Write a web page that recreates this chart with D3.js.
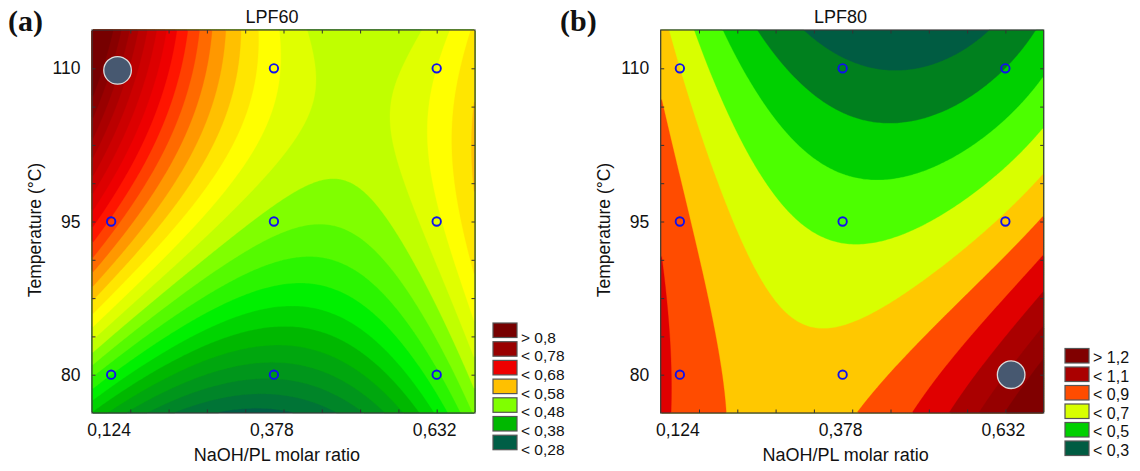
<!DOCTYPE html>
<html>
<head>
<meta charset="utf-8">
<title>LPF60 / LPF80</title>
<style>
  body { margin: 0; background: #fff; }
  svg text { font-family: Arial, "Liberation Sans", sans-serif; fill: #111; }
</style>
</head>
<body>
<svg id="chart" width="1140" height="471"></svg>
<script src="https://cdn.jsdelivr.net/npm/d3@7/dist/d3.min.js"></script>
<script>
// design points: NaOH/PL molar ratio and temperature
const ratios = [0.124, 0.378, 0.632];
const temps = [80, 95, 110];

// response read at the design points, rows = 80, 95, 110 °C
const lpf60 = [
  [0.42, 0.325, 0.435],
  [0.635, 0.47, 0.515],
  [0.78, 0.525, 0.52]
];
const lpf80 = [
  [0.88, 0.75, 1.10],
  [0.83, 0.57, 0.72],
  [0.70, 0.32, 0.40]
];

// contour levels
const levels60 = [0.28, 0.30, 0.32, 0.34, 0.36, 0.38, 0.40, 0.42, 0.44, 0.46, 0.48, 0.50, 0.52, 0.54,
                  0.56, 0.58, 0.60, 0.62, 0.64, 0.66, 0.68, 0.70, 0.72, 0.74, 0.76, 0.78, 0.80];
const levels80 = [0.3, 0.4, 0.5, 0.6, 0.7, 0.8, 0.9, 1.0, 1.1, 1.2];

// colour of a band, keyed by its upper level
const stops60 = [0.28, 0.30, 0.38, 0.42, 0.48, 0.50, 0.52, 0.54, 0.56, 0.58, 0.60, 0.62, 0.64, 0.66, 0.68,
                 0.78, 0.80, 0.82];
const colors60 = ["#005e46", "#007436", "#00b800", "#00f000", "#80ff00", "#c0ff00", "#e0ff00", "#ffff00",
                  "#ffe600", "#ffc000", "#ff9800", "#ff6a00", "#ff4000", "#ff1500", "#ee0000",
                  "#990000", "#880000", "#770000"];
const stops80 = [0.3, 0.4, 0.5, 0.6, 0.7, 0.8, 0.9, 1.0, 1.1, 1.2, 1.3];
const colors80 = ["#005c42", "#00801e", "#00d000", "#4cff00", "#d8ff00", "#ffc800", "#ff4c00",
                  "#e00000", "#aa0000", "#960000", "#800000"];

// legends
const legend60 = ["> 0,8", "< 0,78", "< 0,68", "< 0,58", "< 0,48", "< 0,38", "< 0,28"];
const legend60Lv = [0.82, 0.78, 0.68, 0.58, 0.48, 0.38, 0.28];
const legend80 = ["> 1,2", "< 1,1", "< 0,9", "< 0,7", "< 0,5", "< 0,3"];
const legend80Lv = [1.3, 1.1, 0.9, 0.7, 0.5, 0.3];

// marked point (ratio, temperature)
const best60 = [0.134, 109.8];
const best80 = [0.641, 80];

const xTickLabels = ["0,124", "0,378", "0,632"];
const yTickLabels = ["80", "95", "110"];

const xDomain = [0.0941, 0.6918];
const tDomain = [76.25, 113.75];

const W = 383, H = 383;
const plotTop = 30;
const panels = [
  { tag: "(a)", title: "LPF60", z: lpf60, levels: levels60, stops: stops60, colors: colors60,
    legend: legend60, legendLv: legend60Lv, best: best60,
    left: 92, tagX: 8, ylabX: 41, legX: 493, legY: 323, legStep: 18.7, legDy: 19.5, legFont: 15.5, legTx: 521 },
  { tag: "(b)", title: "LPF80", z: lpf80, levels: levels80, stops: stops80, colors: colors80,
    legend: legend80, legendLv: legend80Lv, best: best80,
    left: 660.7, tagX: 560, ylabX: 610, legX: 1065, legY: 348.5, legStep: 18.5, legDy: 14.5, legFont: 16, legTx: 1093 }
];

// Lagrange weights over the three design levels
function weights(xs, x) {
  return xs.map((xi, i) => xs.reduce((p, xj, j) => j === i ? p : p * (x - xj) / (xi - xj), 1));
}
function surface(z) {
  return (x, t) => {
    const wx = weights(ratios, x), wt = weights(temps, t);
    return d3.sum(wt, (a, j) => a * d3.sum(wx, (b, i) => b * z[j][i]));
  };
}

const svg = d3.select("#chart");
const N = 192;

panels.forEach(p => {
  const x = d3.scaleLinear().domain(xDomain).range([0, W]);
  const y = d3.scaleLinear().domain(tDomain).range([H, 0]);
  const color = d3.scaleLinear().domain(p.stops).range(p.colors).clamp(true);
  const f = surface(p.z);

  const g = svg.append("g").attr("transform", `translate(${p.left},${plotTop})`);

  // surface grid
  const values = new Array(N * N);
  for (let j = 0; j < N; j++) {
    for (let i = 0; i < N; i++) {
      values[j * N + i] = f(x.invert((i + 0.5) * W / N), y.invert((j + 0.5) * H / N));
    }
  }
  const contours = d3.contours().size([N, N]).thresholds(p.levels)(values);
  const proj = d3.geoTransform({
    point: function (px, py) { this.stream.point(px * W / N, py * H / N); }
  });
  const path = d3.geoPath(proj);
  const topLv = p.stops[p.stops.length - 1];
  const bandColor = k => color(k + 1 < p.levels.length ? p.levels[k + 1] : topLv);

  g.append("rect").attr("width", W).attr("height", H).attr("fill", color(p.levels[0]));
  g.selectAll("path.band")
    .data(contours)
    .join("path")
    .attr("class", "band")
    .attr("d", path)
    .attr("fill", (d, k) => bandColor(k))
    .attr("stroke", (d, k) => bandColor(k))
    .attr("stroke-width", 0.3);

  // inward tick marks, ten equal divisions
  const xDiv = d3.range(1, 10).map(i => d3.interpolateNumber(xDomain[0], xDomain[1])(i / 10));
  const tDiv = d3.range(1, 10).map(i => d3.interpolateNumber(tDomain[0], tDomain[1])(i / 10));
  const tickAxes = [
    [d3.axisBottom(x).tickValues(xDiv), `translate(0,${H})`],
    [d3.axisTop(x).tickValues(xDiv), "translate(0,0)"],
    [d3.axisLeft(y).tickValues(tDiv), "translate(0,0)"],
    [d3.axisRight(y).tickValues(tDiv), `translate(${W},0)`]
  ];
  tickAxes.forEach(([ax, tr]) => {
    const a = g.append("g").attr("transform", tr)
      .call(ax.tickSize(-3.5).tickFormat(""));
    a.select(".domain").remove();
    a.selectAll("line").attr("stroke", "#333");
  });

  g.append("rect").attr("width", W).attr("height", H)
    .attr("fill", "none").attr("stroke", "#3a3a3a").attr("stroke-width", 1.2);

  // tick labels
  const gx = g.append("g").attr("transform", `translate(0,${H})`)
    .call(d3.axisBottom(x).tickValues(ratios).tickSize(0).tickPadding(11)
      .tickFormat((d, i) => xTickLabels[i]));
  gx.select(".domain").remove();
  gx.selectAll("text").attr("font-size", 17.5).attr("dx", -2.5)
    .style("font-family", "Arial, 'Liberation Sans', sans-serif").attr("fill", "#111");

  const gy = g.append("g")
    .call(d3.axisLeft(y).tickValues(temps).tickSize(0).tickPadding(11.5)
      .tickFormat((d, i) => yTickLabels[i]));
  gy.select(".domain").remove();
  gy.selectAll("text").attr("font-size", 17.5)
    .style("font-family", "Arial, 'Liberation Sans', sans-serif").attr("fill", "#111");

  // design points
  const pts = [];
  temps.forEach(t => ratios.forEach(r => pts.push([r, t])));
  g.selectAll("circle.run")
    .data(pts)
    .join("circle")
    .attr("class", "run")
    .attr("cx", d => x(d[0]))
    .attr("cy", d => y(d[1]))
    .attr("r", 4.2)
    .attr("fill", "none")
    .attr("stroke", "#1010ee")
    .attr("stroke-width", 1.9);

  g.append("circle")
    .attr("cx", x(p.best[0]))
    .attr("cy", y(p.best[1]))
    .attr("r", 13.8)
    .attr("fill", "#475870")
    .attr("stroke", "#dcdcdc")
    .attr("stroke-width", 1.3);

  // titles
  g.append("text")
    .attr("x", x(0.378) - 2)
    .attr("y", -6.7)
    .attr("text-anchor", "middle")
    .attr("font-size", 18)
    .text(p.title);

  g.append("text")
    .attr("x", x(0.378) + 3)
    .attr("y", H + 48.4)
    .attr("text-anchor", "middle")
    .attr("font-size", 18)
    .text("NaOH/PL molar ratio");

  svg.append("text")
    .attr("transform", `translate(${p.ylabX},230) rotate(-90)`)
    .attr("text-anchor", "middle")
    .attr("font-size", 17.5)
    .text("Temperature (°C)");

  svg.append("text")
    .attr("x", p.tagX)
    .attr("y", 31)
    .attr("font-size", 30)
    .attr("font-weight", "bold")
    .style("font-family", "'Liberation Serif', 'Times New Roman', serif")
    .text(p.tag);

  // legend
  const lg = svg.append("g");
  lg.selectAll("rect")
    .data(p.legend)
    .join("rect")
    .attr("x", p.legX)
    .attr("y", (d, i) => p.legY + i * p.legStep)
    .attr("width", 24)
    .attr("height", 14.5)
    .attr("fill", (d, i) => color(p.legendLv[i]))
    .attr("stroke", "#555")
    .attr("stroke-width", 1.2);
  lg.selectAll("text")
    .data(p.legend)
    .join("text")
    .attr("x", p.legTx)
    .attr("y", (d, i) => p.legY + i * p.legStep + p.legDy)
    .attr("font-size", p.legFont)
    .text(d => d);
});
</script>
</body>
</html>
